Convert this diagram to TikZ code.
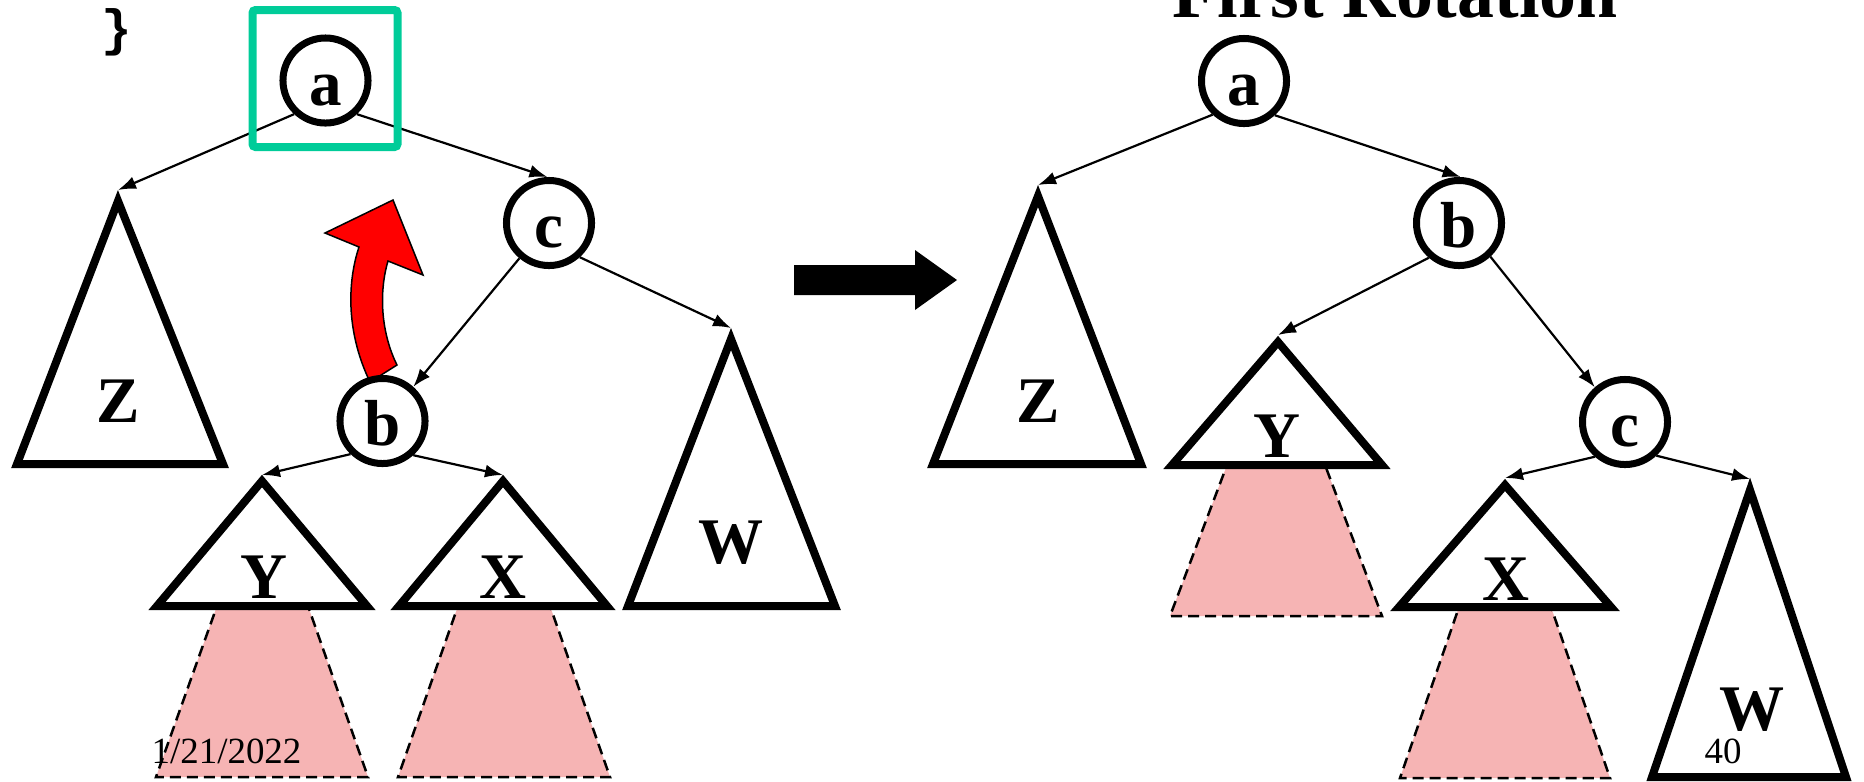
\documentclass[tikz,border=0pt]{standalone}
\usepackage{fontspec}
\setmainfont{Liberation Serif}
\setmonofont{Liberation Mono}
\usepackage{tikz}
\usetikzlibrary{calc, arrows.meta}
\tikzset{>={Latex[length=1.8mm,width=1.3mm]}}
\definecolor{mygreen}{RGB}{0, 204, 153}
\definecolor{mypink}{RGB}{246, 180, 180}
\definecolor{myred}{RGB}{255, 0, 0}

\begin{document}
\begin{tikzpicture}[x=0.01cm, y=-0.01cm,
vertex/.style={circle, draw, fill=white, line width=0.07cm, minimum size=0.85cm, inner sep=0pt, text height=0.49cm, text depth=0cm, font=\fontsize{18.5}{20}\selectfont\bfseries},
tree/.style={draw, line width=0.08cm},
shade/.style={fill=mypink, line width=0.025cm, dash pattern=on 0.11cm off 0.06cm},
lab/.style={anchor=base, inner sep=0pt, font=\fontsize{18.5}{20}\selectfont\bfseries},
edge/.style={->, line width=0.022cm}]
\path[use as bounding box] (0,0) rectangle (1864,781);
\clip (0,0) rectangle (1864,781);
\draw[shade] (217,606) -- (308,606) -- (368,777) -- (156,777) -- cycle;
\draw[shade] (458,606) -- (550,606) -- (610,777) -- (398,777) -- cycle;
\draw[shade] (1227,465) -- (1325,465) -- (1382,616) -- (1170,616) -- cycle;
\draw[shade] (1459,607) -- (1551,607) -- (1610,778) -- (1400,778) -- cycle;
\draw[tree] (118,201) -- (17,464) -- (223,464) -- cycle;
\draw[tree] (731,339) -- (628,606) -- (835,606) -- cycle;
\draw[tree] (262,481) -- (157,606) -- (367,606) -- cycle;
\draw[tree] (503,481) -- (399,606) -- (607,606) -- cycle;
\draw[tree] (1038,196) -- (933,464) -- (1141,464) -- cycle;
\draw[tree] (1278,342) -- (1172,465) -- (1382,465) -- cycle;
\draw[tree] (1505,485) -- (1399,607) -- (1611,607) -- cycle;
\draw[tree] (1750,490) -- (1652,777) -- (1846,777) -- cycle;
\coordinate (zt) at (118,190);
\coordinate (wt) at (731,328);
\coordinate (yt) at (262,475);
\coordinate (xt) at (503,475);
\coordinate (zt2) at (1038,185);
\coordinate (yt2) at (1278,335);
\coordinate (xt2) at (1505,478);
\coordinate (wt2) at (1750,479);
\node[lab] (zl) at (118,422) {Z};
\node[lab] (wl) at (731,563) {W};
\node[lab] (yl) at (264,598) {Y};
\node[lab] (xl) at (503,598) {X};
\node[lab] (zl2) at (1038,422) {Z};
\node[lab] (yl2) at (1277,457) {Y};
\node[lab] (xl2) at (1506,600) {X};
\node[lab] (wl2) at (1752,730) {W};
\draw[fill=myred, line width=0.015cm] (370,382) .. controls (345,330) and (348,280) .. (359,247) -- (325,233) -- (393,200) -- (423,275) -- (388,261) .. controls (378,295) and (382,335) .. (397,365) -- cycle;
\node[vertex] (a) at (325.5,80.5) {a};
\node[vertex] (c) at (549,223) {c};
\node[vertex] (b) at (382.5,421) {b};
\node[vertex] (a2) at (1244,81) {a};
\node[vertex] (b2) at (1459,223) {b};
\node[vertex] (c2) at (1625,422) {c};
\foreach \s / \t in {a.227/zt, a.-47/c.92, c.230/b.48, c.-48/wt, b.226/yt, b.-48/xt,
a2.227/zt2, a2.-48/b2.88, b2.229/yt2, b2.-47/c2.131, c2.229/xt2, c2.-47/wt2}{
\draw[edge] (\s) -- (\t);
}
\draw[mygreen, line width=0.08cm, rounded corners=0.03cm] (252.5,10) rectangle (397.5,147);
\fill (794,265) -- (915,265) -- (915,250) -- (957,280) -- (915,310) -- (915,295) -- (794,295) -- cycle;
\node[anchor=base, inner sep=0pt, font=\fontsize{21}{24}\selectfont\bfseries] (title) at (1395,17) {First Rotation};
\node[anchor=base, inner sep=0pt, font=\ttfamily\bfseries\fontsize{14.5}{16}\selectfont] (brace) at (117,45) {\}};
\node[anchor=base, inner sep=0pt, font=\fontsize{10.5}{12}\selectfont] (date) at (226.5,763) {1/21/2022};
\node[anchor=base, inner sep=0pt, font=\fontsize{10.5}{12}\selectfont] (page) at (1723,763) {40};
\end{tikzpicture}
\end{document}
